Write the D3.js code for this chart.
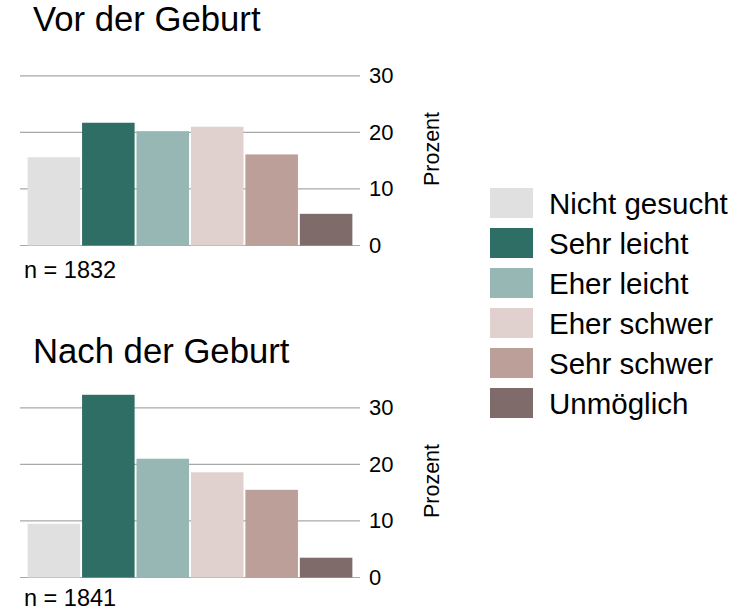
<!DOCTYPE html>
<meta charset="utf-8">
<style>
body { margin: 0; background: #fff; }
text { font-family: "Liberation Sans", Arial, sans-serif; fill: #000; }
.grid line { stroke: #a9a9a9; stroke-width: 1.2px; }
</style>
<svg width="744" height="610"></svg>
<script src="https://cdn.jsdelivr.net/npm/d3@7"></script>
<script>

// Data
var categories = ["Nicht gesucht", "Sehr leicht", "Eher leicht", "Eher schwer", "Sehr schwer", "Unmöglich"];
var colors = ["#e0e0e0", "#2e6e64", "#96b7b4", "#e0d1cf", "#bc9f98", "#7f6b6a"];
var vorValues = [15.6, 21.7, 20.2, 21.0, 16.1, 5.6];
var nachValues = [9.5, 32.3, 21.0, 18.6, 15.5, 3.5];
var yTicks = [0, 10, 20, 30];
var panelTitles = ["Vor der Geburt", "Nach der Geburt"];
var panelN = ["n = 1832", "n = 1841"];

var svg = d3.select("svg");

var color = d3.scaleOrdinal().domain(categories).range(colors);

var x = d3.scaleBand()
    .domain(categories)
    .range([20, 360])
    .paddingInner(0.035)
    .paddingOuter(0.14);

var panels = [
  { title: panelTitles[0], n: panelN[0], values: vorValues, top: 0, nY: 278 },
  { title: panelTitles[1], n: panelN[1], values: nachValues, top: 332, nY: 274 }
];

panels.forEach(function(p) {
  var g = svg.append("g").attr("transform", "translate(0," + p.top + ")");

  var y = d3.scaleLinear().domain([0, 30]).range([245.5, 75.8]);

  // Title
  g.append("text")
      .attr("x", 33)
      .attr("y", 31)
      .attr("font-size", 34.7)
      .text(p.title);

  // Gridlines
  g.append("g")
      .attr("class", "grid")
      .selectAll("line")
      .data(yTicks)
      .enter().append("line")
      .attr("x1", 20)
      .attr("x2", 360)
      .attr("y1", function(d) { return y(d); })
      .attr("y2", function(d) { return y(d); });

  // Bars
  g.append("g")
      .selectAll("rect")
      .data(p.values)
      .enter().append("rect")
      .attr("x", function(d, i) { return x(categories[i]); })
      .attr("width", x.bandwidth())
      .attr("y", function(d) { return y(d); })
      .attr("height", function(d) { return y(0) - y(d); })
      .attr("fill", function(d, i) { return color(categories[i]); });

  // Right axis
  var axis = g.append("g")
      .attr("transform", "translate(360,0)")
      .call(d3.axisRight(y).tickValues(yTicks).tickSize(0).tickPadding(9));
  axis.select(".domain").remove();
  axis.selectAll("text")
      .attr("font-size", 22)
      .attr("font-family", "Liberation Sans, Arial, sans-serif");

  // Axis title
  g.append("text")
      .attr("transform", "translate(439,149) rotate(-90)")
      .attr("text-anchor", "middle")
      .attr("font-size", 21.5)
      .text("Prozent");

  // n label
  g.append("text")
      .attr("x", 24)
      .attr("y", p.nY)
      .attr("font-size", 23.5)
      .text(p.n);
});

// Legend
var legend = svg.append("g")
    .selectAll("g")
    .data(categories)
    .enter().append("g")
    .attr("transform", function(d, i) { return "translate(490," + (188 + i * 40) + ")"; });

legend.append("rect")
    .attr("width", 43)
    .attr("height", 30)
    .attr("fill", function(d) { return color(d); });

legend.append("text")
    .attr("x", 59)
    .attr("y", 16)
    .attr("dy", "0.35em")
    .attr("font-size", 29.5)
    .text(function(d) { return d; });

</script>
